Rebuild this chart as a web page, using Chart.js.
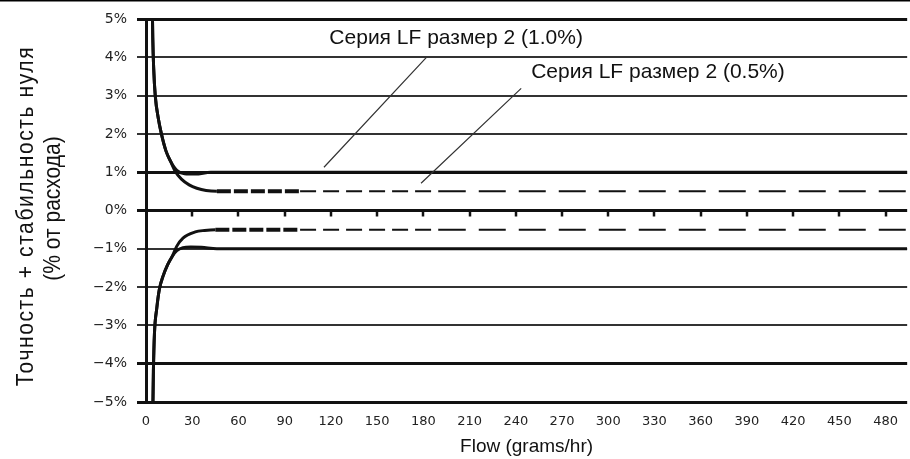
<!DOCTYPE html>
<html>
<head>
<meta charset="utf-8">
<script src="https://cdn.jsdelivr.net/npm/chart.js@4.4.1/dist/chart.umd.min.js"></script>
<style>
  html, body { margin: 0; padding: 0; background: #fff; }
  #wrap { width: 910px; height: 459px; position: relative; }
</style>
</head>
<body>
<div id="wrap"><canvas id="grafico"></canvas></div>
<script>
// ticks
const xTicks = [0, 30, 60, 90, 120, 150, 180, 210, 240, 270, 300, 330, 360, 390, 420, 450, 480];
const yTicks = [-5, -4, -3, -2, -1, 0, 1, 2, 3, 4, 5];
const yTickLabels = ['−5%', '−4%', '−3%', '−2%', '−1%', '0%', '1%', '2%', '3%', '4%', '5%'];
const heavyLines = [5, 1, 0, -4, -5];

// series LF size 2 (1.0%) - upper and lower limit
const flowPos10 = [4.0, 4.4, 5, 6, 8, 10, 13, 16, 20, 25, 32, 42, 494];
const valPos10 = [5.6, 4.5, 3.7, 3.0, 2.4, 2.0, 1.55, 1.28, 1.05, 0.96, 0.95, 1.0, 1.0];
const flowNeg10 = [4.3, 4.8, 5.5, 7, 8.7, 11, 14, 17, 20, 24, 29, 36, 46, 494];
const valNeg10 = [-5.6, -4.2, -3.2, -2.55, -2.05, -1.72, -1.42, -1.2, -1.05, -0.97, -0.95, -0.96, -1.0, -1.0];

// series LF size 2 (0.5%)
const flowPos05 = [4.0, 4.4, 5, 6, 8, 10, 13, 16, 19, 23, 28, 33, 39, 46, 100, 190, 494];
const valPos05 = [5.6, 4.5, 3.7, 3.0, 2.4, 2.0, 1.55, 1.28, 1.02, 0.82, 0.67, 0.58, 0.52, 0.5, 0.5, 0.5, 0.5];
const flowNeg05 = [4.3, 4.8, 5.5, 7, 8.7, 11, 14, 17, 20, 24, 32, 38, 45, 100, 190, 494];
const valNeg05 = [-5.6, -4.2, -3.2, -2.55, -2.05, -1.72, -1.42, -1.2, -0.93, -0.72, -0.56, -0.52, -0.5, -0.5, -0.5, -0.5];

const label10 = 'Серия LF размер 2 (1.0%)';
const label05 = 'Серия LF размер 2 (0.5%)';
const yTitle = ['Точность + стабильность нуля', '(% от расхода)'];

function toPoints(xs, ys) {
  return xs.map((v, i) => ({ x: v, y: ys[i] }));
}

function dashed(ctx) {
  const x0 = ctx.p0.parsed.x;
  if (x0 >= 190) return [27, 13];
  if (x0 >= 100) return [16, 7];
  if (x0 >= 45) return [14, 3];
  return undefined;
}
function dashedWidth(ctx) {
  const x0 = ctx.p0.parsed.x;
  if (x0 >= 100) return 2;
  if (x0 >= 45) return 4;
  return 3;
}

const solidLine = {
  borderColor: '#111',
  borderWidth: 3,
  pointRadius: 0,
  fill: false,
  cubicInterpolationMode: 'monotone'
};
const dashLine = {
  ...solidLine,
  segment: { borderDash: dashed, borderWidth: dashedWidth }
};

const annotations = {
  id: 'annotations',
  beforeDraw(chart) {
    const { ctx, width } = chart;
    ctx.save();
    ctx.fillStyle = '#000';
    ctx.fillRect(0, 0, width, 1.5);
    ctx.restore();
  },
  afterDraw(chart) {
    const { ctx } = chart;
    // y axis title, two lines, glyphs a bit stretched like the scan
    ctx.save();
    ctx.fillStyle = '#111';
    ctx.font = '21px "Liberation Sans", Arial, sans-serif';
    ctx.textAlign = 'center';
    ctx.textBaseline = 'alphabetic';
    ctx.save();
    ctx.translate(33, 216);
    ctx.rotate(-Math.PI / 2);
    ctx.scale(1, 1.12);
    ctx.letterSpacing = '1.6px';
    ctx.fillText(yTitle[0], 0, 0);
    ctx.restore();
    ctx.save();
    ctx.translate(60, 208.5);
    ctx.rotate(-Math.PI / 2);
    ctx.scale(1, 1.12);
    ctx.fillText(yTitle[1], 0, 0);
    ctx.restore();
    ctx.restore();
  },
  afterDatasetsDraw(chart) {
    const { ctx, scales: { x, y } } = chart;
    ctx.save();
    // little ticks under the 0% line
    const y0 = y.getPixelForValue(0);
    ctx.strokeStyle = '#111';
    ctx.lineWidth = 2.5;
    xTicks.forEach(v => {
      if (v === 0) return;
      const px = Math.round(x.getPixelForValue(v));
      ctx.beginPath();
      ctx.moveTo(px, y0);
      ctx.lineTo(px, y0 + 6);
      ctx.stroke();
    });
    // leader lines
    ctx.strokeStyle = '#333';
    ctx.lineWidth = 1.2;
    ctx.beginPath();
    ctx.moveTo(x.getPixelForValue(182), y.getPixelForValue(4.0));
    ctx.lineTo(x.getPixelForValue(115.5), y.getPixelForValue(1.13));
    ctx.moveTo(x.getPixelForValue(243.5), y.getPixelForValue(3.19));
    ctx.lineTo(x.getPixelForValue(178.5), y.getPixelForValue(0.71));
    ctx.stroke();
    // labels
    ctx.fillStyle = '#111';
    ctx.font = '21px "Liberation Sans", Arial, sans-serif';
    ctx.textAlign = 'left';
    ctx.textBaseline = 'middle';
    ctx.fillText(label10, x.getPixelForValue(119), y.getPixelForValue(4.5));
    ctx.fillText(label05, x.getPixelForValue(250), y.getPixelForValue(3.6));
    ctx.restore();
  }
};

const chart = new Chart(document.getElementById('grafico'), {
  type: 'line',
  data: {
    datasets: [
      { ...solidLine, data: toPoints(flowPos10, valPos10) },
      { ...solidLine, data: toPoints(flowNeg10, valNeg10) },
      { ...dashLine, data: toPoints(flowPos05, valPos05) },
      { ...dashLine, data: toPoints(flowNeg05, valNeg05) }
    ]
  },
  options: {
    responsive: true,
    maintainAspectRatio: false,
    animation: false,
    layout: { padding: { top: 19, right: 0, left: 0, bottom: 0 } },
    plugins: { legend: { display: false }, tooltip: { enabled: false } },
    scales: {
      x: {
        type: 'linear',
        min: 0,
        max: 494,
        afterBuildTicks(scale) { scale.ticks = xTicks.map(v => ({ value: v })); },
        afterFit(scale) { scale.height = 57; },
        grid: { display: false, drawTicks: false },
        border: { display: false },
        ticks: {
          padding: 12,
          color: '#222',
          font: { family: '"DejaVu Sans", sans-serif', size: 13 },
          maxRotation: 0,
          autoSkip: false
        },
        title: {
          display: true,
          text: 'Flow (grams/hr)',
          color: '#111',
          font: { family: '"Liberation Sans", Arial, sans-serif', size: 19, lineHeight: 1.2 },
          padding: { top: 0, bottom: 1 }
        }
      },
      y: {
        min: -5,
        max: 5,
        afterBuildTicks(scale) { scale.ticks = yTicks.map(v => ({ value: v })); },
        afterFit(scale) { scale.width = 146; },
        grid: {
          color: ctx => heavyLines.includes(ctx.tick.value) ? '#111' : '#333',
          lineWidth: ctx => heavyLines.includes(ctx.tick.value) ? 3 : 2,
          tickLength: 9
        },
        border: { display: true, color: '#111', width: 3 },
        ticks: {
          padding: 10,
          color: '#222',
          font: { family: '"DejaVu Sans", sans-serif', size: 14 },
          callback: v => yTickLabels[yTicks.indexOf(v)]
        },
        title: { display: false }
      }
    }
  },
  plugins: [annotations]
});
</script>
</body>
</html>
